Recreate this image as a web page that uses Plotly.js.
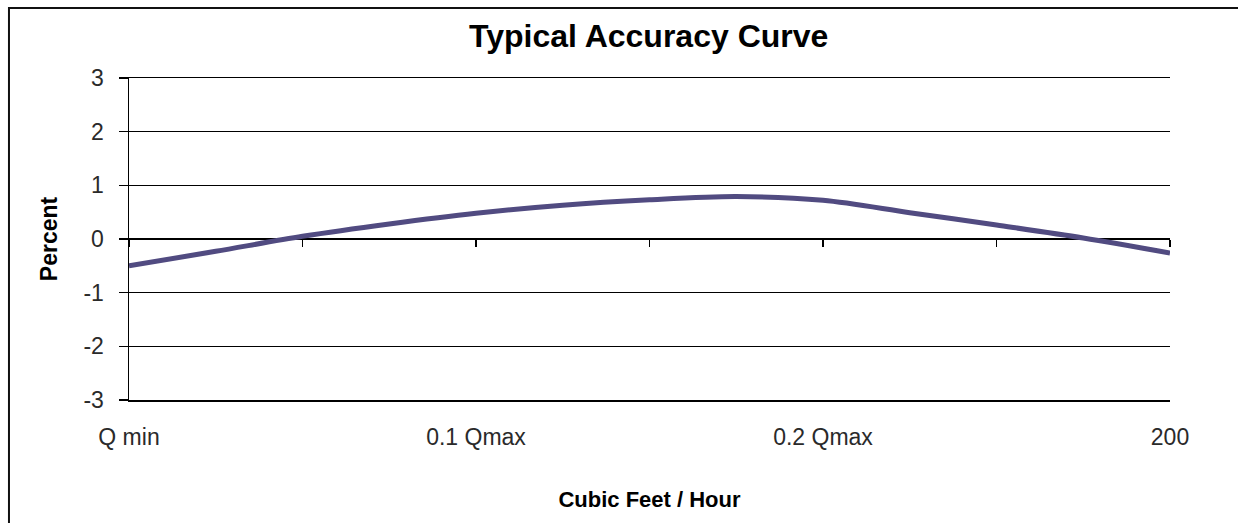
<!DOCTYPE html>
<html>
<head>
<meta charset="utf-8">
<script src="https://cdn.plot.ly/plotly-3.0.1.min.js"></script>
<style>
  html, body { margin: 0; padding: 0; background: #ffffff; }
  #chart { width: 1238px; height: 523px; }
</style>
</head>
<body>
<div id="chart"></div>
<script>
// ---- data ----
const chartTitle = 'Typical Accuracy Curve';
const xTitle = 'Cubic Feet / Hour';
const yTitle = 'Percent';

// category positions along the flow axis (0 = Q min ... 6 = 200)
const flowPos = [0, 0.5, 1, 1.5, 2, 2.5, 3, 3.5, 4, 4.5, 5, 5.5, 6];
// accuracy error in percent
const accuracy = [-0.50, -0.23, 0.05, 0.28, 0.48, 0.63, 0.73, 0.79, 0.72, 0.49, 0.26, 0.02, -0.26];

// category tick positions and labels
const tickPos = [0, 1, 2, 3, 4, 5, 6];
const tickLabels = ['Q min', '', '0.1 Qmax', '', '0.2 Qmax', '', '200'];
const yTicks = [-3, -2, -1, 0, 1, 2, 3];
const yTickLabels = ['-3', '-2', '-1', '0', '1', '2', '3'];

const FONT = 'Liberation Sans, Arial, Helvetica, sans-serif';

const curve = {
  x: flowPos,
  y: accuracy,
  xaxis: 'x',
  yaxis: 'y',
  type: 'scatter',
  mode: 'lines',
  line: { color: '#514b81', width: 5, shape: 'spline', smoothing: 0.9 },
  hoverinfo: 'x+y',
  showlegend: false
};

// empty helper trace so the category tick axis on the zero line is created
const zeroAxisHelper = {
  x: [],
  y: [],
  xaxis: 'x2',
  yaxis: 'y',
  type: 'scatter',
  mode: 'lines',
  hoverinfo: 'skip',
  showlegend: false
};

const layout = {
  width: 1238,
  height: 523,
  margin: { l: 129, r: 68, t: 78, b: 123 },
  paper_bgcolor: '#ffffff',
  plot_bgcolor: '#ffffff',
  font: { family: FONT, color: '#000000' },
  showlegend: false,
  title: {
    text: '<b>' + chartTitle + '</b>',
    font: { family: FONT, size: 32, color: '#000000' },
    x: 0.524, xref: 'container', xanchor: 'center',
    y: 0.931, yref: 'container', yanchor: 'middle'
  },
  xaxis: {
    range: [0, 6],
    tickmode: 'array',
    tickvals: tickPos,
    ticktext: tickLabels,
    ticks: '',
    showgrid: false,
    zeroline: false,
    showline: true,
    mirror: true,
    linecolor: '#000000',
    linewidth: 1.5,
    tickfont: { family: FONT, size: 23, color: '#2a2a2a' },
    ticklabelstandoff: 16,
    automargin: false,
    fixedrange: true,
    title: {
      text: '<b>' + xTitle + '</b>',
      font: { family: FONT, size: 22, color: '#000000' },
      standoff: 42
    }
  },
  xaxis2: {
    overlaying: 'x',
    anchor: 'free',
    position: 0.5,
    side: 'bottom',
    range: [0, 6],
    tickmode: 'array',
    tickvals: tickPos,
    ticks: 'outside',
    ticklen: 7,
    tickwidth: 1.5,
    tickcolor: '#000000',
    showticklabels: false,
    showgrid: false,
    zeroline: false,
    showline: false,
    automargin: false,
    fixedrange: true
  },
  yaxis: {
    range: [-3, 3],
    tickmode: 'array',
    tickvals: yTicks,
    ticktext: yTickLabels,
    ticks: 'outside',
    ticklen: 9,
    tickwidth: 1.5,
    tickcolor: '#000000',
    showgrid: true,
    gridcolor: '#000000',
    gridwidth: 1.5,
    zeroline: false,
    showline: true,
    linecolor: '#000000',
    linewidth: 1.5,
    tickfont: { family: FONT, size: 23, color: '#2a2a2a' },
    ticklabelstandoff: 10,
    automargin: false,
    fixedrange: true,
    title: {
      text: '<b>' + yTitle + '</b>',
      font: { family: FONT, size: 23, color: '#000000' },
      standoff: 19
    }
  },
  shapes: [
    {
      type: 'rect', xref: 'paper', yref: 'paper',
      x0: -0.1153, x1: 1.2, y0: -0.40, y1: 1.2174,
      line: { color: '#111111', width: 2 },
      fillcolor: 'rgba(0,0,0,0)',
      layer: 'below'
    }
  ]
};

Plotly.newPlot('chart', [curve, zeroAxisHelper], layout, { displayModeBar: false, staticPlot: true });
</script>
</body>
</html>
